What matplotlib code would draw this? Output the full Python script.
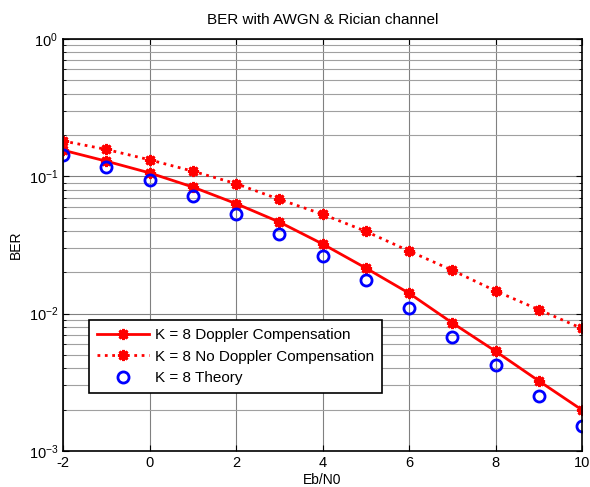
import matplotlib
matplotlib.use("Agg")
import matplotlib.pyplot as plt
from matplotlib.ticker import LogLocator, NullFormatter

plt.rcParams["font.family"] = ["Liberation Sans", "DejaVu Sans"]
plt.rcParams["axes.unicode_minus"] = False

ebn0 = [-2, -1, 0, 1, 2, 3, 4, 5, 6, 7, 8, 9, 10]
ber_comp = [0.155, 0.129, 0.106, 0.0836, 0.0633, 0.0465, 0.0322, 0.0215,
            0.0141, 0.00857, 0.00533, 0.00324, 0.00199]
ber_nocomp = [0.181, 0.157, 0.132, 0.109, 0.0885, 0.068, 0.053, 0.0398,
              0.0286, 0.0207, 0.01465, 0.0107, 0.0078]
ber_theory = [0.144, 0.117, 0.0936, 0.0719, 0.0535, 0.038, 0.0262, 0.0176,
              0.0110, 0.00678, 0.00422, 0.00251, 0.00152]

fig = plt.figure(figsize=(5.9, 4.87), dpi=100)
ax = fig.add_axes([63 / 590, 1 - 451 / 487, 519 / 590, 412 / 487])

star = (8, 2, 0)  # MATLAB-style asterisk
ax.semilogy(ebn0, ber_comp, color="red", lw=2, marker=star, ms=8, mew=2,
            label="K = 8 Doppler Compensation")
ax.semilogy(ebn0, ber_nocomp, color="red", lw=2, ls=":", marker=star, ms=8,
            mew=2, label="K = 8 No Doppler Compensation")
ax.semilogy(ebn0, ber_theory, ls="none", marker="o", ms=8, mfc="none",
            mec="blue", mew=2, label="K = 8 Theory")

ax.set_xlim(-2, 10)
ax.set_ylim(1e-3, 1)
ax.set_xticks(range(-2, 11, 2))
ax.yaxis.set_major_locator(LogLocator(base=10, numticks=10))
ax.yaxis.set_minor_locator(LogLocator(base=10, subs=range(2, 10), numticks=100))
ax.yaxis.set_minor_formatter(NullFormatter())

ax.grid(True, which="major", color="#808080", lw=0.8)
ax.grid(True, which="minor", axis="y", color="#a0a0a0", lw=0.8)
ax.tick_params(which="both", direction="in", top=True, right=True,
               labelsize=10.5)
ax.tick_params(which="major", length=4)
ax.tick_params(which="minor", length=2)
for s in ax.spines.values():
    s.set_linewidth(1.2)

ax.set_xlabel("Eb/N0", fontsize=10, labelpad=2)
ax.set_ylabel("BER", fontsize=10, labelpad=4)
ax.set_title("BER with AWGN & Rician channel", fontsize=11, pad=11)

leg = ax.legend(loc="lower left", bbox_to_anchor=(26 / 519, 58 / 412),
                fontsize=11, fancybox=False, framealpha=1,
                edgecolor="black", borderaxespad=0, handlelength=3.4,
                handletextpad=0.45, labelspacing=0.5, borderpad=0.5)
leg.get_frame().set_linewidth(1.2)

fig.savefig("out.png", dpi=100)
